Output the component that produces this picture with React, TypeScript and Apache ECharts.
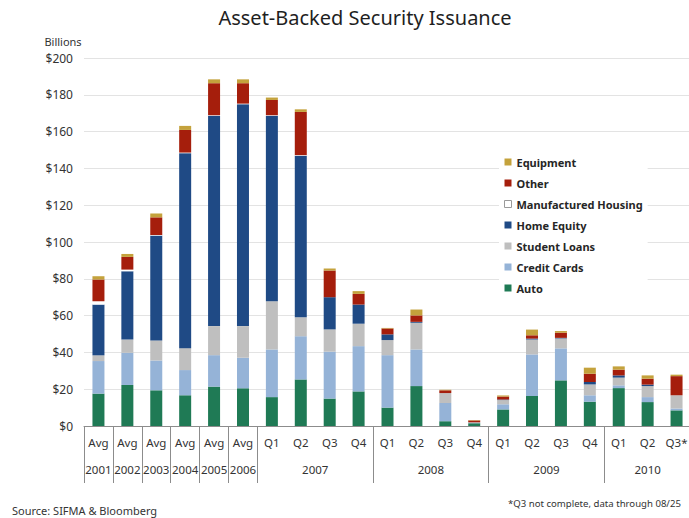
import React, { useEffect, useRef } from "react";
import * as echarts from "echarts";

const periodLabels = ["Avg","Avg","Avg","Avg","Avg","Avg","Q1","Q2","Q3","Q4","Q1","Q2","Q3","Q4","Q1","Q2","Q3","Q4","Q1","Q2","Q3*"];
const yearLabels = ["2001","2002","2003","2004","2005","2006","2007","2008","2009","2010"];
const yearSpans = [1,1,1,1,1,1,4,4,4,3];

const autoVals = [17.6, 22.3, 19.4, 16.7, 21.4, 20.5, 15.7, 25.3, 14.9, 18.8, 10.0, 21.7, 2.6, 1.5, 9.0, 16.3, 24.8, 13.2, 20.6, 13.0, 8.5];
const creditCardVals = [17.7, 17.5, 16.2, 13.7, 17.1, 16.6, 25.9, 23.5, 25.5, 24.6, 28.5, 19.9, 9.9, 0.3, 2.8, 22.6, 17.4, 3.5, 1.5, 2.7, 1.0];
const studentLoanVals = [3.1, 7.2, 10.9, 11.9, 15.8, 17.2, 26.2, 10.3, 12.1, 12.2, 8.2, 14.5, 5.4, 0.2, 2.3, 8.1, 5.4, 5.9, 4.2, 6.0, 7.2];
const homeEquityVals = [27.6, 37.1, 57.0, 106.0, 114.3, 120.6, 100.8, 87.8, 17.5, 10.4, 3.1, 0.5, 0, 0, 0.3, 0.5, 0.3, 1.3, 1.2, 0.8, 0];
const manufacturedHousingVals = [1.8, 0.9, 0.3, 0.3, 0.3, 0.3, 0.3, 0.3, 0, 0, 0, 0, 0, 0, 0, 0, 0, 0, 0, 0, 0];
const otherVals = [11.8, 6.9, 9.6, 12.3, 17.4, 11.1, 8.3, 23.5, 14.5, 5.8, 3.2, 3.5, 1.5, 1.0, 1.6, 1.8, 2.8, 4.5, 3.1, 3.2, 10.4];
const equipmentVals = [1.8, 1.6, 2.1, 2.2, 2.1, 2.1, 1.3, 1.4, 1.1, 1.5, 0.3, 3.2, 0.3, 0.2, 0.6, 3.1, 0.9, 3.3, 1.8, 1.8, 0.8];

const yTicks = [0, 20, 40, 60, 80, 100, 120, 140, 160, 180, 200];

const seriesDefs = [
  { name: "Auto", data: autoVals, color: "#1F7A55" },
  { name: "Credit Cards", data: creditCardVals, color: "#95B3D7" },
  { name: "Student Loans", data: studentLoanVals, color: "#BFBFBF" },
  { name: "Home Equity", data: homeEquityVals, color: "#1F4A85" },
  { name: "Manufactured Housing", data: manufacturedHousingVals, color: "#FFFFFF" },
  { name: "Other", data: otherVals, color: "#A51E0C" },
  { name: "Equipment", data: equipmentVals, color: "#C4A23C" },
];

const labelFont = "'Noto Sans', 'DejaVu Sans', sans-serif";

export default function App() {
  const ref = useRef<HTMLDivElement>(null);
  useEffect(() => {
    if (!ref.current) return;
    const chart = echarts.init(ref.current, undefined, { renderer: "svg" });

    const boundaries: number[] = [];
    const centers: Record<string, string> = {};
    let pos = 0;
    yearSpans.forEach((span, i) => {
      boundaries.push(pos);
      centers[(pos + span / 2).toFixed(1)] = yearLabels[i];
      pos += span;
    });
    const total = pos;

    const legendData = [...seriesDefs].reverse().map((s) =>
      s.name === "Manufactured Housing"
        ? { name: s.name, itemStyle: { color: "#FFFFFF", borderColor: "#9A9A9A", borderWidth: 1 } }
        : { name: s.name }
    );

    chart.setOption({
      animation: false,
      backgroundColor: "#FFFFFF",
      grid: { left: 84, right: -2, top: 58, bottom: 92, containLabel: false, outerBoundsMode: "none" },
      legend: {
        orient: "vertical",
        left: 499,
        top: 151,
        padding: 5,
        backgroundColor: "#FFFFFF",
        itemWidth: 7,
        itemHeight: 7,
        itemGap: 9,
        icon: "rect",
        data: legendData,
        textStyle: { fontFamily: labelFont, fontSize: 11, fontWeight: "bold", color: "#262626", lineHeight: 12 },
      },
      xAxis: [
        {
          type: "category",
          data: periodLabels,
          boundaryGap: true,
          axisLine: { show: true, lineStyle: { color: "#8C8C8C", width: 1 } },
          axisTick: {
            show: true,
            length: 57,
            lineStyle: { color: "#8C8C8C", width: 1 },
            interval: (index: number) => boundaries.includes(index),
          },
          axisLabel: { interval: 0, margin: 10, fontFamily: labelFont, fontSize: 11.5, color: "#333333" },
          splitLine: { show: false },
        },
        {
          type: "value",
          position: "bottom",
          min: 0,
          max: total,
          interval: 0.5,
          axisLine: { show: false },
          axisTick: { show: false },
          splitLine: { show: false },
          axisLabel: {
            margin: 37,
            fontFamily: labelFont,
            fontSize: 11.5,
            color: "#333333",
            showMinLabel: true,
            showMaxLabel: true,
            formatter: (v: number) => centers[v.toFixed(1)] || "",
          },
        },
      ],
      yAxis: {
        type: "value",
        min: yTicks[0],
        max: yTicks[yTicks.length - 1],
        interval: yTicks[1] - yTicks[0],
        axisLine: { show: false },
        axisTick: { show: false },
        splitLine: { show: true, lineStyle: { color: "#E3E3E3", width: 1 } },
        axisLabel: { margin: 11, fontFamily: labelFont, fontSize: 12, color: "#333333", formatter: (v: number) => "$" + v },
      },
      series: seriesDefs.map((s) => ({
        name: s.name,
        type: "bar",
        stack: "total",
        barWidth: 12,
        data: s.data,
        itemStyle: { color: s.color },
        emphasis: { disabled: true },
      })),
      graphic: [
        {
          type: "text",
          x: 365,
          y: 17,
          style: {
            text: "Asset-Backed Security Issuance",
            fontFamily: labelFont,
            fontSize: 20,
            fill: "#1F1F1F",
            align: "center",
            verticalAlign: "middle",
          },
        },
        {
          type: "text",
          x: 63,
          y: 41,
          style: { text: "Billions", fontFamily: labelFont, fontSize: 11, fill: "#333333", align: "center", verticalAlign: "middle" },
        },
        {
          type: "text",
          x: 12,
          y: 510,
          style: { text: "Source: SIFMA & Bloomberg", fontFamily: labelFont, fontSize: 11, fill: "#333333", align: "left", verticalAlign: "middle" },
        },
        {
          type: "text",
          x: 508,
          y: 503,
          style: { text: "*Q3 not complete, data through 08/25", fontFamily: labelFont, fontSize: 9.6, fill: "#333333", align: "left", verticalAlign: "middle" },
        },
      ],
    });
    return () => chart.dispose();
  }, []);
  return <div ref={ref} style={{ position: "fixed", left: 0, top: 0, width: 689, height: 518 }} />;
}
